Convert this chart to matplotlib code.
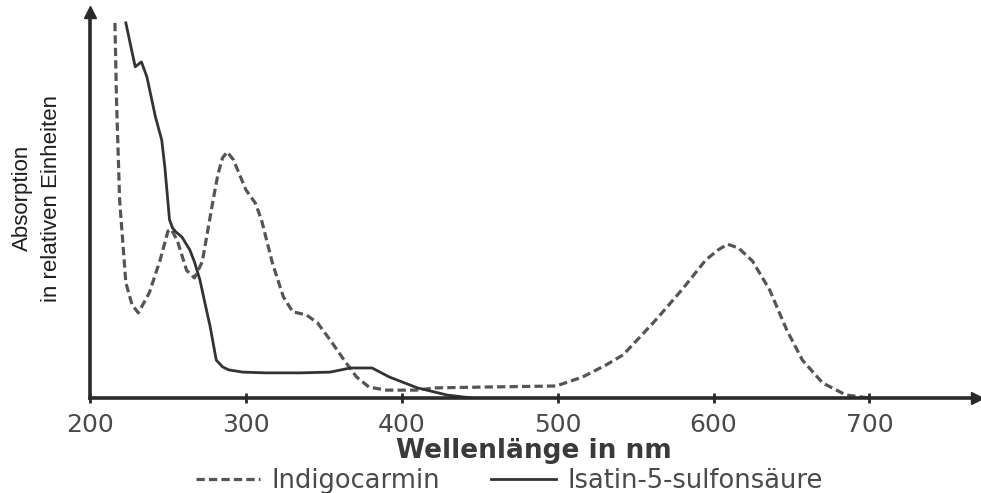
import matplotlib.pyplot as plt
from matplotlib.lines import Line2D

# Absorptionsspektren (relative Einheiten) über der Wellenlänge in nm
indigo_nm = [216, 217, 219, 223, 227, 231, 238, 245, 250, 252, 256, 262, 267,
             272, 279, 282, 285, 288, 292, 300, 306, 310, 317, 324, 330, 339,
             346, 354, 363, 371, 379, 390, 409, 422, 450, 499, 516, 531, 542,
             554, 564, 580, 595, 603, 609, 616, 625, 636, 647, 657, 670, 685,
             700]
indigo_abs = [100, 79.5, 52.8, 30.7, 24.8, 22.7, 28.0, 36.8, 44.5, 45.0, 42.0,
              34.0, 32.0, 36.3, 52.8, 59.5, 64.0, 65.6, 63.5, 55.5, 52.0, 47.5,
              36.0, 27.0, 23.0, 22.1, 20.0, 15.5, 10.1, 5.6, 2.9, 2.1, 2.1,
              2.7, 2.9, 3.2, 5.6, 8.8, 11.5, 16.8, 21.3, 29.0, 36.8, 39.5, 41.0,
              40.0, 36.5, 28.8, 18.1, 10.1, 4.0, 0.8, 0.0]

isatin_nm = [223, 226, 229, 233, 236.5, 242, 246, 248, 251, 253, 255, 259, 264,
             267, 270.5, 274, 277, 281, 285, 289, 298, 313, 335, 354, 367, 381,
             392, 410, 429, 445]
isatin_abs = [100, 94.1, 88.3, 89.6, 85.6, 74.9, 68.8, 61.6, 47.5, 45.3, 44.3,
              42.9, 39.5, 36.3, 31.5, 24.8, 19.2, 10.1, 8.3, 7.5, 6.9, 6.7, 6.7,
              6.9, 8.0, 8.0, 5.6, 2.7, 0.8, 0.0]

x_ticks = [200, 300, 400, 500, 600, 700]

plt.rcParams['font.family'] = ['DejaVu Sans']
axis_col = '#2a2a2a'
text_col = '#4a4a4a'
dash = (0, (2.6, 1.3))

fig = plt.figure(figsize=(9.81, 4.93), dpi=100)
ax = fig.add_axes([90 / 981, 95 / 493, 887 / 981, 386 / 493])

ax.plot(indigo_nm, indigo_abs, color='#555555', lw=2.3, ls=dash,
        dash_capstyle='butt')
ax.plot(isatin_nm, isatin_abs, color='#333333', lw=2.0,
        solid_joinstyle='round')

ax.set_xlim(200, 769)
ax.set_ylim(0, 102.9)

for side in ('top', 'right'):
    ax.spines[side].set_visible(False)
for side in ('left', 'bottom'):
    ax.spines[side].set_linewidth(2.6)
    ax.spines[side].set_color(axis_col)

# Pfeilspitzen an den Achsenenden
ax.plot(1, 0, '>', color=axis_col, ms=8, transform=ax.transAxes, clip_on=False)
ax.plot(0, 1, '^', color=axis_col, ms=8, transform=ax.transAxes, clip_on=False)

ax.set_xticks(x_ticks)
ax.set_yticks([])
ax.tick_params(axis='x', direction='inout', length=7, width=2, color=axis_col,
               pad=7, labelsize=18, labelcolor=text_col)

ax.set_xlabel('Wellenlänge in nm', fontsize=19, fontweight='bold',
              color='#3a3a3a', labelpad=1)

fig.text(37 / 981, 1 - 198 / 493, 'Absorption\nin relativen Einheiten',
         rotation=90, ha='center', va='center', multialignment='center',
         fontsize=16, color='#1e1e1e', linespacing=1.45,
         family=['Liberation Sans', 'DejaVu Sans'])

handles = [
    Line2D([], [], color='#555555', lw=2.3, ls=dash),
    Line2D([], [], color='#333333', lw=2.0),
]
fig.legend(handles, ['Indigocarmin', 'Isatin-5-sulfonsäure'],
           loc='center', bbox_to_anchor=(509 / 981, 1 - 481 / 493),
           ncol=2, frameon=False, fontsize=18.5, labelcolor=text_col,
           handlelength=2.5, handletextpad=0.45, columnspacing=2.0,
           borderpad=0, borderaxespad=0)

fig.savefig('out.png', dpi=100)
